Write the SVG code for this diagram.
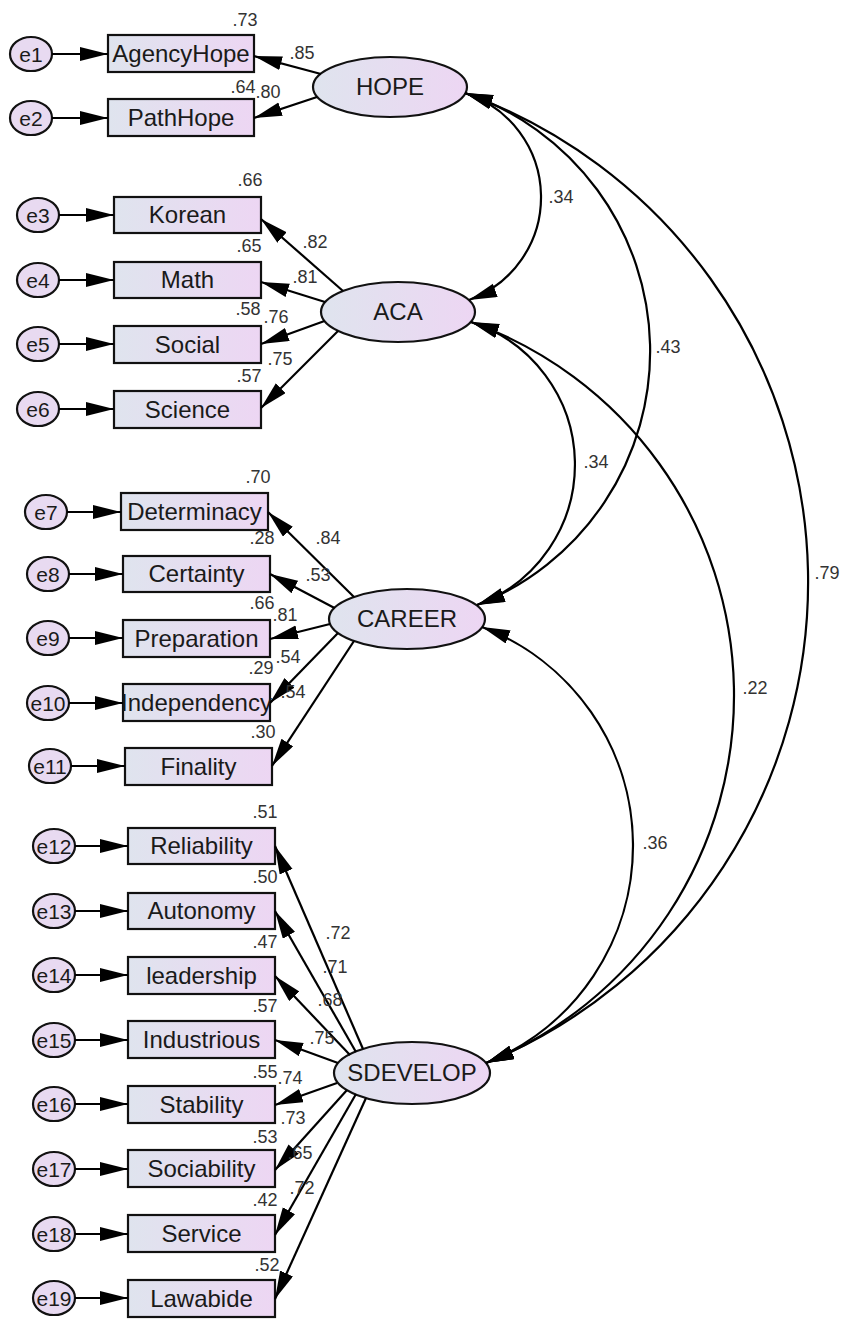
<svg xmlns="http://www.w3.org/2000/svg" width="844" height="1321" viewBox="0 0 844 1321">
  <style>
    .box { fill: url(#shade); stroke: #111; stroke-width: 2.2; }
    .err { fill: #e8daf1; stroke: #111; stroke-width: 2.2; }
    .lbl { font-family: "Liberation Sans", Arial, sans-serif; font-size: 24px; text-anchor: middle; fill: #1a1a1a; }
    .elbl { font-family: "Liberation Sans", Arial, sans-serif; font-size: 21px; text-anchor: middle; fill: #1a1a1a; }
    .num { font-family: "Liberation Sans", Arial, sans-serif; font-size: 18px; text-anchor: middle; fill: #333; }
    .ln { stroke: #000; stroke-width: 2.2; fill: none; marker-end: url(#head); }
    .cov { stroke: #000; stroke-width: 2.2; fill: none; marker-start: url(#head); marker-end: url(#head); }
  </style>
  <defs>
    <linearGradient id="shade" x1="0" y1="0" x2="1" y2="0">
      <stop offset="0" stop-color="#dfe4ee"/>
      <stop offset="1" stop-color="#edd6f3"/>
    </linearGradient>
    <marker id="head" markerUnits="userSpaceOnUse" markerWidth="29" markerHeight="15" refX="28" refY="7" orient="auto-start-reverse" viewBox="0 0 29 15">
      <path d="M0,0 L28,7 L0,14 Z" fill="#000"/>
    </marker>
  </defs>
  <rect width="844" height="1321" fill="#fff"/>

  <!-- latent factors -->
  <g id="HOPE"><ellipse class="box" cx="390" cy="87" rx="77" ry="30"/><text class="lbl" x="390" y="95">HOPE</text></g>
  <g id="ACA"><ellipse class="box" cx="398" cy="312" rx="77" ry="30"/><text class="lbl" x="398" y="320">ACA</text></g>
  <g id="CAREER"><ellipse class="box" cx="407" cy="619" rx="78" ry="30"/><text class="lbl" x="407" y="627">CAREER</text></g>
  <g id="SDEVELOP"><ellipse class="box" cx="412" cy="1073" rx="78" ry="31"/><text class="lbl" x="412" y="1081">SDEVELOP</text></g>

  <!-- observed indicators -->
  <g id="AgencyHope"><rect class="box" x="108" y="35" width="146" height="37"/><text class="lbl" x="181" y="62">AgencyHope</text></g>
  <g id="PathHope"><rect class="box" x="108" y="99" width="146" height="37"/><text class="lbl" x="181" y="126">PathHope</text></g>
  <g id="Korean"><rect class="box" x="114" y="197" width="147" height="36"/><text class="lbl" x="187.5" y="223">Korean</text></g>
  <g id="Math"><rect class="box" x="114" y="262" width="147" height="36"/><text class="lbl" x="187.5" y="288">Math</text></g>
  <g id="Social"><rect class="box" x="114" y="326" width="147" height="37"/><text class="lbl" x="187.5" y="352.5">Social</text></g>
  <g id="Science"><rect class="box" x="114" y="391" width="147" height="37"/><text class="lbl" x="187.5" y="417.5">Science</text></g>
  <g id="Determinacy"><rect class="box" x="121" y="493" width="147" height="37"/><text class="lbl" x="194.5" y="519.5">Determinacy</text></g>
  <g id="Certainty"><rect class="box" x="123" y="556" width="147" height="36"/><text class="lbl" x="196.5" y="582">Certainty</text></g>
  <g id="Preparation"><rect class="box" x="123" y="620" width="147" height="37"/><text class="lbl" x="196.5" y="646.5">Preparation</text></g>
  <g id="Independency"><rect class="box" x="123" y="684" width="147" height="37"/><text class="lbl" x="196.5" y="710.5">Independency</text></g>
  <g id="Finality"><rect class="box" x="125" y="748" width="147" height="37"/><text class="lbl" x="198.5" y="774.5">Finality</text></g>
  <g id="Reliability"><rect class="box" x="128" y="828" width="147" height="36"/><text class="lbl" x="201.5" y="854">Reliability</text></g>
  <g id="Autonomy"><rect class="box" x="128" y="893" width="147" height="36"/><text class="lbl" x="201.5" y="919">Autonomy</text></g>
  <g id="leadership"><rect class="box" x="128" y="957" width="147" height="37"/><text class="lbl" x="201.5" y="983.5">leadership</text></g>
  <g id="Industrious"><rect class="box" x="128" y="1021" width="147" height="37"/><text class="lbl" x="201.5" y="1047.5">Industrious</text></g>
  <g id="Stability"><rect class="box" x="128" y="1086" width="147" height="37"/><text class="lbl" x="201.5" y="1112.5">Stability</text></g>
  <g id="Sociability"><rect class="box" x="128" y="1150" width="147" height="37"/><text class="lbl" x="201.5" y="1176.5">Sociability</text></g>
  <g id="Service"><rect class="box" x="128" y="1215" width="147" height="37"/><text class="lbl" x="201.5" y="1241.5">Service</text></g>
  <g id="Lawabide"><rect class="box" x="128" y="1280" width="147" height="37"/><text class="lbl" x="201.5" y="1306.5">Lawabide</text></g>

  <!-- error terms -->
  <g id="e1"><ellipse class="err" cx="31" cy="54" rx="21" ry="17"/><text class="elbl" x="31" y="61.5">e1</text></g>
  <g id="e2"><ellipse class="err" cx="31" cy="118" rx="21" ry="17"/><text class="elbl" x="31" y="125.5">e2</text></g>
  <g id="e3"><ellipse class="err" cx="38" cy="215" rx="21" ry="17"/><text class="elbl" x="38" y="222.5">e3</text></g>
  <g id="e4"><ellipse class="err" cx="38" cy="280" rx="21" ry="17"/><text class="elbl" x="38" y="287.5">e4</text></g>
  <g id="e5"><ellipse class="err" cx="38" cy="344" rx="21" ry="17"/><text class="elbl" x="38" y="351.5">e5</text></g>
  <g id="e6"><ellipse class="err" cx="38" cy="409" rx="21" ry="17"/><text class="elbl" x="38" y="416.5">e6</text></g>
  <g id="e7"><ellipse class="err" cx="46" cy="512" rx="21" ry="17"/><text class="elbl" x="46" y="519.5">e7</text></g>
  <g id="e8"><ellipse class="err" cx="48" cy="574" rx="21" ry="17"/><text class="elbl" x="48" y="581.5">e8</text></g>
  <g id="e9"><ellipse class="err" cx="48" cy="638" rx="21" ry="17"/><text class="elbl" x="48" y="645.5">e9</text></g>
  <g id="e10"><ellipse class="err" cx="48" cy="703" rx="21" ry="17"/><text class="elbl" x="48" y="710.5">e10</text></g>
  <g id="e11"><ellipse class="err" cx="50" cy="766" rx="21" ry="17"/><text class="elbl" x="50" y="773.5">e11</text></g>
  <g id="e12"><ellipse class="err" cx="54" cy="846" rx="21" ry="17"/><text class="elbl" x="54" y="853.5">e12</text></g>
  <g id="e13"><ellipse class="err" cx="54" cy="911" rx="21" ry="17"/><text class="elbl" x="54" y="918.5">e13</text></g>
  <g id="e14"><ellipse class="err" cx="54" cy="975" rx="21" ry="17"/><text class="elbl" x="54" y="982.5">e14</text></g>
  <g id="e15"><ellipse class="err" cx="54" cy="1040" rx="21" ry="17"/><text class="elbl" x="54" y="1047.5">e15</text></g>
  <g id="e16"><ellipse class="err" cx="54" cy="1104" rx="21" ry="17"/><text class="elbl" x="54" y="1111.5">e16</text></g>
  <g id="e17"><ellipse class="err" cx="54" cy="1169" rx="21" ry="17"/><text class="elbl" x="54" y="1176.5">e17</text></g>
  <g id="e18"><ellipse class="err" cx="54" cy="1234" rx="21" ry="17"/><text class="elbl" x="54" y="1241.5">e18</text></g>
  <g id="e19"><ellipse class="err" cx="54" cy="1298" rx="21" ry="17"/><text class="elbl" x="54" y="1305.5">e19</text></g>

  <!-- paths: error terms, loadings and covariances -->
  <g id="connectors">
    <line class="ln" x1="52" y1="54" x2="108" y2="54"/>
    <line class="ln" x1="52" y1="118" x2="108" y2="118"/>
    <line class="ln" x1="59" y1="215" x2="114" y2="215"/>
    <line class="ln" x1="59" y1="280" x2="114" y2="280"/>
    <line class="ln" x1="59" y1="344" x2="114" y2="344"/>
    <line class="ln" x1="59" y1="409" x2="114" y2="409"/>
    <line class="ln" x1="67" y1="512" x2="121" y2="512"/>
    <line class="ln" x1="69" y1="574" x2="123" y2="574"/>
    <line class="ln" x1="69" y1="638" x2="123" y2="638"/>
    <line class="ln" x1="69" y1="703" x2="123" y2="703"/>
    <line class="ln" x1="71" y1="766" x2="125" y2="766"/>
    <line class="ln" x1="75" y1="846" x2="128" y2="846"/>
    <line class="ln" x1="75" y1="911" x2="128" y2="911"/>
    <line class="ln" x1="75" y1="975" x2="128" y2="975"/>
    <line class="ln" x1="75" y1="1040" x2="128" y2="1040"/>
    <line class="ln" x1="75" y1="1104" x2="128" y2="1104"/>
    <line class="ln" x1="75" y1="1169" x2="128" y2="1169"/>
    <line class="ln" x1="75" y1="1234" x2="128" y2="1234"/>
    <line class="ln" x1="75" y1="1298" x2="128" y2="1298"/>

    <line class="ln" x1="321" y1="74" x2="254" y2="56"/>
    <line class="ln" x1="317" y1="97" x2="254" y2="118"/>

    <line class="ln" x1="343" y1="291" x2="261" y2="219"/>
    <line class="ln" x1="325" y1="302" x2="261" y2="282"/>
    <line class="ln" x1="324.5" y1="321" x2="261" y2="344"/>
    <line class="ln" x1="338" y1="331" x2="261" y2="408"/>

    <line class="ln" x1="354" y1="597" x2="268" y2="512"/>
    <line class="ln" x1="334.5" y1="608" x2="270" y2="574"/>
    <line class="ln" x1="330" y1="624" x2="270" y2="639"/>
    <line class="ln" x1="338" y1="633" x2="270" y2="703"/>
    <line class="ln" x1="354" y1="641" x2="272" y2="766"/>

    <line class="ln" x1="363" y1="1049" x2="275" y2="846"/>
    <line class="ln" x1="356" y1="1052" x2="275" y2="911"/>
    <line class="ln" x1="350" y1="1055" x2="275" y2="976"/>
    <line class="ln" x1="338" y1="1063" x2="275" y2="1040"/>
    <line class="ln" x1="337" y1="1083" x2="275" y2="1105"/>
    <line class="ln" x1="347" y1="1090" x2="275" y2="1170"/>
    <line class="ln" x1="356" y1="1094" x2="275" y2="1235"/>
    <line class="ln" x1="366" y1="1098" x2="275" y2="1299"/>

    <path class="cov" d="M465,93 A109.4,109.4 0 0 1 469,300"/>
    <path class="cov" d="M465,93 A272.6,272.6 0 0 1 477,605"/>
    <path class="cov" d="M465,93 A520.1,520.1 0 0 1 486,1063"/>
    <path class="cov" d="M471,322 A149.7,149.7 0 0 1 477,605"/>
    <path class="cov" d="M471,322 A396.5,396.5 0 0 1 486,1063"/>
    <path class="cov" d="M482,627 A234,234 0 0 1 486,1063"/>
  </g>

  <!-- estimates -->
  <g id="estimates">
    <text class="num" x="245" y="26">.73</text>
    <text class="num" x="302" y="59">.85</text>
    <text class="num" x="243" y="93">.64</text>
    <text class="num" x="268" y="98">.80</text>
    <text class="num" x="250" y="186">.66</text>
    <text class="num" x="315" y="248">.82</text>
    <text class="num" x="249" y="252">.65</text>
    <text class="num" x="305" y="283">.81</text>
    <text class="num" x="248" y="315">.58</text>
    <text class="num" x="276" y="323">.76</text>
    <text class="num" x="280" y="365">.75</text>
    <text class="num" x="249" y="382">.57</text>
    <text class="num" x="258" y="483">.70</text>
    <text class="num" x="328" y="544">.84</text>
    <text class="num" x="262" y="544">.28</text>
    <text class="num" x="318" y="581">.53</text>
    <text class="num" x="262" y="609">.66</text>
    <text class="num" x="285" y="621">.81</text>
    <text class="num" x="288" y="663">.54</text>
    <text class="num" x="261" y="674">.29</text>
    <text class="num" x="293" y="698">.54</text>
    <text class="num" x="263" y="738">.30</text>
    <text class="num" x="265" y="818">.51</text>
    <text class="num" x="265" y="883">.50</text>
    <text class="num" x="338" y="939">.72</text>
    <text class="num" x="265" y="948">.47</text>
    <text class="num" x="335" y="973">.71</text>
    <text class="num" x="330" y="1006">.68</text>
    <text class="num" x="265" y="1012">.57</text>
    <text class="num" x="322" y="1044">.75</text>
    <text class="num" x="265" y="1078">.55</text>
    <text class="num" x="290" y="1084">.74</text>
    <text class="num" x="293" y="1124">.73</text>
    <text class="num" x="265" y="1143">.53</text>
    <text class="num" x="300" y="1159">.65</text>
    <text class="num" x="302" y="1194">.72</text>
    <text class="num" x="265" y="1206">.42</text>
    <text class="num" x="267" y="1271">.52</text>
    <text class="num" x="561" y="203">.34</text>
    <text class="num" x="668" y="353">.43</text>
    <text class="num" x="827" y="579">.79</text>
    <text class="num" x="596" y="468">.34</text>
    <text class="num" x="755" y="694">.22</text>
    <text class="num" x="655" y="849">.36</text>
  </g>
</svg>
